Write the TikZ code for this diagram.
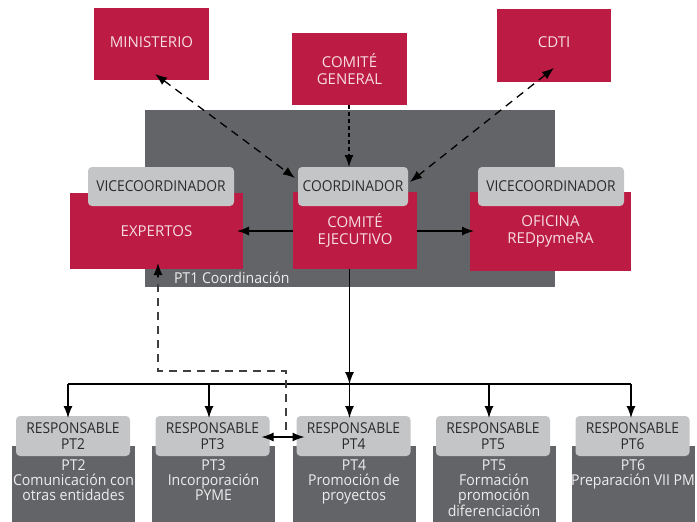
\documentclass[tikz,border=0pt]{standalone}
\usepackage{fontspec}
\setmainfont[FakeStretch=0.92]{Open Sans}
\newfontfamily\redfont{Open Sans}
\newfontfamily\wpfont[FakeStretch=0.94]{Open Sans}
\usetikzlibrary{arrows.meta,calc}
\definecolor{redfill}{HTML}{BC1C44}
\definecolor{darkfill}{HTML}{636467}
\definecolor{lightfill}{HTML}{C4C5C7}
\definecolor{redtext}{HTML}{F6DCE2}
\definecolor{darktext}{HTML}{2B2B2B}
\definecolor{lighttext}{HTML}{EDEDED}
\definecolor{dashgray}{HTML}{404040}
\begin{document}
\begin{tikzpicture}[x=1pt,y=-1pt,
  base/.style={inner sep=0pt, outer sep=0pt, font=\fontsize{15}{16}\selectfont, align=center},
  redbox/.style={base, fill=redfill, text=redtext, font=\redfont\fontsize{15}{17}\selectfont},
  panel/.style={base, fill=darkfill},
  tag/.style={base, fill=lightfill, text=darktext, rounded corners=4pt},
  wpbox/.style={base, fill=darkfill, minimum width=123pt, minimum height=80pt},
  wptext/.style={base, text=lighttext, anchor=north, font=\wpfont\fontsize{15}{15}\selectfont},
  arr/.style={-{Latex[length=12pt,width=9pt]}, line width=1.3pt},
  darr/.style={{Latex[length=12pt,width=9pt]}-{Latex[length=12pt,width=9pt]}, line width=1.3pt, dash pattern=on 8pt off 6pt},
  dsarr/.style={-{Latex[length=12pt,width=9pt]}, line width=1.3pt, dash pattern=on 4pt off 3pt},
  biarr/.style={{Latex[length=12pt,width=9pt]}-{Latex[length=12pt,width=9pt]}, line width=1.3pt}
]
\useasboundingbox (0,0) rectangle (697,522);

% top external boxes
\node[redbox, minimum width=115pt, minimum height=72pt] (min) at (151.5,44) {};
\node[base, text=redtext, font=\redfont\fontsize{15}{17}\selectfont] (mint) at (151.5,42) {MINISTERIO};
\node[redbox, minimum width=115pt, minimum height=72pt] (cg) at (349.5,69) {COMITÉ\\GENERAL};
\node[redbox, minimum width=114pt, minimum height=73pt] (cdti) at (554,45.5) {};
\node[base, text=redtext, font=\redfont\fontsize{15}{17}\selectfont] (cdtit) at (554,42) {CDTI};

% PT1 panel
\node[panel, minimum width=410pt, minimum height=177pt] (pt1) at (350,198.5) {};
\node[base, anchor=west, text=lighttext, font=\wpfont\fontsize{15}{15}\selectfont] (pt1lab) at (174,278) {PT1 Coordinación};

% red boxes in PT1
\node[redbox, minimum width=173pt, minimum height=76pt] (exp) at (156.5,231) {EXPERTOS};
\node[redbox, minimum width=124pt, minimum height=77pt] (ce) at (355,230.5) {COMITÉ\\EJECUTIVO};
\node[redbox, minimum width=161pt, minimum height=79pt] (ofi) at (550.5,231.5) {OFICINA\\REDpymeRA};

% tags
\node[tag, minimum width=146pt, minimum height=39pt] (vcl) at (161,186.5) {VICECOORDINADOR};
\node[tag, minimum width=110pt, minimum height=39pt] (coord) at (353,186.5) {COORDINADOR};
\node[tag, minimum width=146pt, minimum height=39pt] (vcr) at (551,186.5) {VICECOORDINADOR};

% bottom work packages
\node[wpbox] (w2) at (73.5,486) {};
\node[wpbox] (w3) at (213.5,486) {};
\node[wpbox] (w4) at (354,486) {};
\node[wpbox] (w5) at (494,486) {};
\node[wpbox] (w6) at (633,486) {};
\node[wptext] (t2) at (73.5,460) {PT2\\Comunicación con\\otras entidades};
\node[wptext] (t3) at (213.5,460) {PT3\\Incorporación\\PYME};
\node[wptext] (t4) at (354,460) {PT4\\Promoción de\\proyectos};
\node[wptext] (t5) at (494,460) {PT5\\Formación\\promoción\\diferenciación};
\node[wptext] (t6) at (633,460) {PT6\\Preparación VII PM};

\node[tag, minimum width=114pt, minimum height=40pt] (r2) at (73,436) {RESPONSABLE\\PT2};
\node[tag, minimum width=114pt, minimum height=40pt] (r3) at (212.5,436) {RESPONSABLE\\PT3};
\node[tag, minimum width=114pt, minimum height=40pt] (r4) at (353.5,436) {RESPONSABLE\\PT4};
\node[tag, minimum width=114pt, minimum height=40pt] (r5) at (493,436) {RESPONSABLE\\PT5};
\node[tag, minimum width=114pt, minimum height=40pt] (r6) at (632.5,436) {RESPONSABLE\\PT6};

% dashed connectors to external bodies
\coordinate (minTip) at (155,74);
\coordinate (coL) at (295,178);
\draw[darr] (minTip) -- (coL);
\coordinate (cdtiTip) at (554,68);
\coordinate (coR) at (410,182);
\draw[darr] (cdtiTip) -- (coR);
\coordinate (cgx) at (349,0);
\draw[dsarr] (cg.south -| cgx) -- (coord.north -| cgx);

% executive committee to experts / office
\coordinate (ceL) at (293,231);
\coordinate (ceR) at (417,231);
\coordinate (expTip) at (237,231);
\coordinate (ofiTip) at (474,231);
\draw[arr] (ceL) -- (expTip);
\draw[arr] (ceR) -- (ofiTip);

% distribution bus
\coordinate (b2) at (68,384);
\coordinate (b3) at (209,384);
\coordinate (b4) at (349.5,384);
\coordinate (b5) at (489,384);
\coordinate (b6) at (631,384);
\draw[line width=1.3pt] (b2) -- (b6);
\draw[arr] (ce.south -| b4) -- (b4);
\draw[arr] (b4) -- ($(r4.north -| b4)+(0,2)$);
\draw[arr] (b2) -- ($(r2.north -| b2)+(0,2)$);
\draw[arr] (b3) -- ($(r3.north -| b3)+(0,2)$);
\draw[arr] (b5) -- ($(r5.north -| b5)+(0,2)$);
\draw[arr] (b6) -- ($(r6.north -| b6)+(0,2)$);

% experts link to PT3/PT4
\coordinate (dA) at (286,430);
\coordinate (dB) at (286,371);
\coordinate (dC) at (158,371);
\coordinate (expB) at (158,263);
\draw[dashgray, line width=1.5pt, dash pattern=on 8pt off 6pt] (dA) -- (dB) -- (dC) -- ($(expB)+(0,13)$);
\draw[-{Latex[length=12pt,width=9pt]}, line width=1.3pt] ($(expB)+(0,14)$) -- (expB);
\draw[biarr] ($(r3.east)+(-8,1)$) -- ($(r4.west)+(8,1)$);
\end{tikzpicture}
\end{document}
